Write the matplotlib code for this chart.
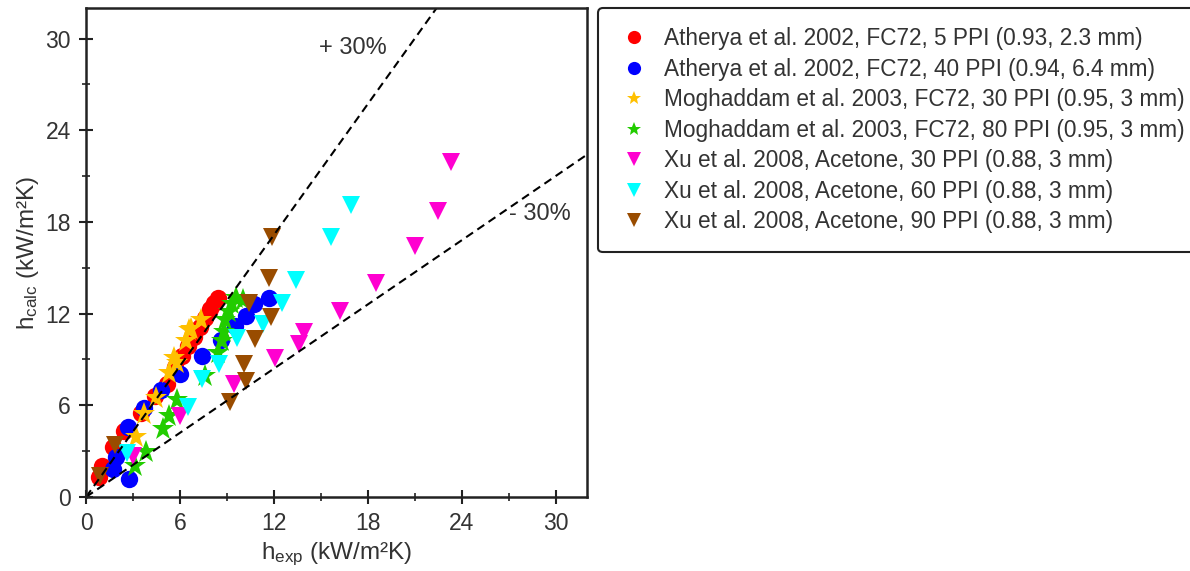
import matplotlib
matplotlib.use("Agg")
import matplotlib.pyplot as plt
import numpy as np

plt.rcParams['font.family'] = ['Liberation Sans', 'DejaVu Sans']
plt.rcParams['mathtext.default'] = 'regular'

# data: (h_exp, h_calc) in kW/m2K
labels = [
    "Atherya et al. 2002, FC72, 5 PPI (0.93, 2.3 mm)",
    "Atherya et al. 2002, FC72, 40 PPI (0.94, 6.4 mm)",
    "Moghaddam et al. 2003, FC72, 30 PPI (0.95, 3 mm)",
    "Moghaddam et al. 2003, FC72, 80 PPI (0.95, 3 mm)",
    "Xu et al. 2008, Acetone, 30 PPI (0.88, 3 mm)",
    "Xu et al. 2008, Acetone, 60 PPI (0.88, 3 mm)",
    "Xu et al. 2008, Acetone, 90 PPI (0.88, 3 mm)",
]

ath5_x = [0.8, 1.0, 1.7, 2.4, 3.5, 4.4, 5.2, 5.7, 6.1, 6.5, 6.9, 7.3, 7.6, 7.9, 8.2, 8.4]
ath5_y = [1.3, 2.0, 3.3, 4.3, 5.5, 6.6, 7.4, 8.5, 9.2, 9.9, 10.5, 11.1, 11.7, 12.3, 12.7, 13.0]

ath40_x = [2.75, 1.7, 1.9, 2.7, 3.7, 4.8, 6.0, 7.4, 8.6, 9.5, 10.2, 10.7, 11.7]
ath40_y = [1.2, 1.8, 2.6, 4.6, 5.8, 7.0, 8.05, 9.2, 10.3, 11.2, 11.85, 12.6, 13.0]

mog30_x = [3.2, 3.7, 4.5, 5.3, 5.6, 5.8, 6.4, 6.6, 6.7, 7.35]
mog30_y = [3.9, 5.4, 6.5, 8.1, 9.1, 8.8, 10.2, 10.9, 11.0, 11.6]

mog80_x = [3.1, 3.8, 4.9, 5.3, 5.8, 7.6, 8.4, 8.7, 8.8, 8.9, 9.15, 9.3, 9.6, 10.0]
mog80_y = [2.0, 2.95, 4.45, 5.3, 6.35, 7.9, 9.4, 10.2, 10.8, 11.6, 12.1, 12.6, 13.0, 12.9]

xu30_x = [3.0, 6.0, 9.45, 12.1, 13.6, 13.9, 16.2, 18.5, 21.0, 22.5, 23.3]
xu30_y = [2.7, 5.3, 7.4, 9.1, 10.0, 10.8, 12.2, 14.0, 16.4, 18.7, 21.9]

xu60_x = [2.6, 6.5, 7.4, 8.5, 9.65, 11.3, 12.5, 13.4, 15.65, 16.9]
xu60_y = [2.9, 5.9, 7.7, 8.7, 10.4, 11.3, 12.7, 14.2, 17.0, 19.1]

xu90_x = [0.9, 1.85, 9.2, 10.2, 10.1, 10.8, 11.8, 10.4, 11.7, 11.9]
xu90_y = [1.4, 3.4, 6.2, 7.6, 8.7, 10.35, 11.8, 12.7, 14.3, 17.0]

series_x = [ath5_x, ath40_x, mog30_x, mog80_x, xu30_x, xu60_x, xu90_x]
series_y = [ath5_y, ath40_y, mog30_y, mog80_y, xu30_y, xu60_y, xu90_y]
colors = ['#ff0000', '#0000ff', '#ffc000', '#22cc00', '#ff00d0', '#00ffff', '#994c00']
markers = ['o', 'o', '*', '*', 'v', 'v', 'v']
sizes = [12.5, 12.5, 17, 17, 12.5, 12.5, 12.5]
leg_sizes = [9.5, 9.5, 10, 10, 10, 10, 10]

dev = 0.3
ref_x = [0, 40]

fig = plt.figure(figsize=(11.9, 5.71), dpi=100)
ax = fig.add_axes([0.0723, 0.1296, 0.4209, 0.8564])

for xs, ys, c, m, s, lab in zip(series_x, series_y, colors, markers, sizes, labels):
    ax.plot(xs, ys, linestyle='none', marker=m, color=c, markersize=s,
            markeredgewidth=0, label=lab)

# +/- 30% lines
ax.plot(ref_x, [v / (1 - dev) for v in ref_x], 'k--', lw=1.5, dashes=(4, 2.5))
ax.plot(ref_x, [v * (1 - dev) for v in ref_x], 'k--', lw=1.5, dashes=(4, 2.5))
ax.text(14.9, 29.4, "+ 30%", fontsize=17, color='#333333', va='center')
ax.text(27.0, 18.5, "- 30%", fontsize=17, color='#333333', va='center')

ax.set_xlim(0, 32)
ax.set_ylim(0, 32)
ax.set_xticks(np.arange(0, 31, 6))
ax.set_yticks(np.arange(0, 31, 6))
ax.set_xticks(np.arange(3, 32, 6), minor=True)
ax.set_yticks(np.arange(3, 32, 6), minor=True)
ax.tick_params(which='major', direction='inout', length=10, width=1.5, pad=6,
               labelsize=16.5, labelcolor='#333333', color='#222222')
ax.tick_params(which='minor', direction='inout', length=6, width=1.2, color='#222222')
for sp in ax.spines.values():
    sp.set_linewidth(1.8)
    sp.set_color('#222222')

ax.set_xlabel("h$_{exp}$ (kW/m²K)", fontsize=17.5, color='#333333', labelpad=4)
ax.set_ylabel("h$_{calc}$ (kW/m²K)", fontsize=17.5, color='#333333', labelpad=3)

leg = fig.legend(loc='upper left', bbox_to_anchor=(598 / 1190, 1 - 8 / 571),
                 borderaxespad=0, fontsize=16.3, handlelength=1.5,
                 handletextpad=0.57, labelspacing=0.33, borderpad=0.85,
                 fancybox=True, edgecolor='#222222', framealpha=1)
leg.get_frame().set_linewidth(1.5)
for t in leg.get_texts():
    t.set_color('#333333')
for h, s in zip(leg.legend_handles, leg_sizes):
    h.set_markersize(s)

fig.savefig("out.png", dpi=100)
